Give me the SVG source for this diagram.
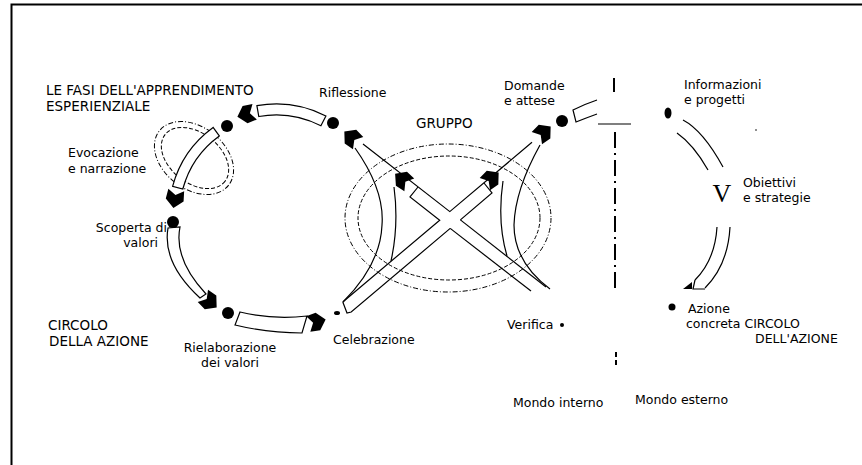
<svg xmlns="http://www.w3.org/2000/svg" width="862" height="465" viewBox="0 0 862 465">
<defs>
<style>
.t{font-family:"DejaVu Sans","Liberation Sans",sans-serif;font-size:12.5px;fill:#000}
.c{font-size:13.5px}
.ln{fill:none;stroke:#000;stroke-width:1.2}
.band{fill:#fff;stroke:#000;stroke-width:1.2}
.dd{fill:none;stroke:#000;stroke-width:1;stroke-dasharray:5 2 1 2}
.ds{fill:none;stroke:#000;stroke-width:1;stroke-dasharray:4 2}
</style>
<path id="ah" d="M10,0 L2,-9 L-8,-8 L-3,0 L-8,8 L2,9 Z" fill="#000"/>
</defs>
<rect width="862" height="465" fill="#fff"/>
<path d="M11.5,465 V4.5 H862" fill="none" stroke="#000" stroke-width="2"/>

<g id="labels">
<text class="t c" x="46" y="95">LE FASI DELL'APPRENDIMENTO</text>
<text class="t c" x="46" y="111">ESPERIENZIALE</text>
<text class="t" x="319" y="97">Riflessione</text>
<text class="t" x="504" y="90">Domande</text>
<text class="t" x="504" y="105">e attese</text>
<text class="t c" x="416" y="128">GRUPPO</text>
<text class="t" x="684" y="89">Informazioni</text>
<text class="t" x="684" y="104">e progetti</text>
<text class="t" x="68" y="157">Evocazione</text>
<text class="t" x="68" y="173">e narrazione</text>
<text x="722" y="202" text-anchor="middle" style="font-family:'Liberation Serif','DejaVu Serif',serif;font-size:26px">V</text>
<text class="t" x="743" y="187">Obiettivi</text>
<text class="t" x="743" y="202">e strategie</text>
<text class="t" x="167" y="232" text-anchor="end">Scoperta di</text>
<text class="t" x="158" y="247" text-anchor="end">valori</text>
<text class="t c" x="48" y="330">CIRCOLO</text>
<text class="t c" x="49" y="346">DELLA AZIONE</text>
<text class="t" x="230" y="352" text-anchor="middle">Rielaborazione</text>
<text class="t" x="230" y="367" text-anchor="middle">dei valori</text>
<text class="t" x="333" y="344">Celebrazione</text>
<text class="t" x="507" y="329">Verifica</text>
<text class="t" x="688" y="313">Azione</text>
<text class="t" x="686" y="328">concreta CIRCOLO</text>
<text class="t" x="755" y="343">DELL'AZIONE</text>
<text class="t" x="513" y="407">Mondo interno</text>
<text class="t" x="635" y="404">Mondo esterno</text>
</g>

<g id="evocazione-ellipses">
<ellipse class="dd" cx="194" cy="158" rx="44" ry="31" transform="rotate(38 194 158)"/>
<ellipse class="ds" cx="195" cy="158" rx="38" ry="25" transform="rotate(38 195 158)"/>
</g>

<g id="gruppo-ellipses">
<ellipse class="dd" cx="448" cy="218" rx="103" ry="74"/>
<ellipse class="ds" cx="449" cy="218" rx="91" ry="62"/>
</g>

<g id="left-circle">
<path class="band" d="M325.9,116 A110,110 0 0 0 256.9,105.7 L258.8,116.5 A99,99 0 0 1 320.9,125.8 Z"/>
<use href="#ah" transform="translate(247,114) rotate(164)"/>
<path class="band" d="M213.1,127.4 A107,107 0 0 0 172.6,186.3 L182.8,189 A96.5,96.5 0 0 1 219.3,135.9 Z"/>
<use href="#ah" transform="translate(175,198) rotate(99)"/>
<path class="band" d="M168,228 Q162,263 200,298 L206,294 Q173.5,259 180,227 Z"/>
<use href="#ah" transform="translate(209,301) rotate(40)"/>
<path class="band" d="M240,312 Q273,320 307,316 L302,333 Q268,333 235,325 Z"/>
<use href="#ah" transform="translate(316,322) rotate(-15)"/>
<circle cx="227" cy="126" r="6"/>
<circle cx="333" cy="123" r="6"/>
<circle cx="173" cy="222" r="6"/>
<circle cx="228" cy="313" r="6"/>
<ellipse cx="337" cy="313" rx="3" ry="2"/>
</g>

<g id="center-cross">
<path class="ln" d="M355,148 C372,172 384,200 382,225 C381,250 370,275 343,302"/>
<path class="ln" d="M363,144 L449.8,211.6 L532,142.3"/>
<path class="ln" d="M460.4,219.9 L546,287"/>
<path class="ln" d="M342.8,302 L439.7,220.2 L410,197 L418,187"/>
<path class="ln" d="M450.2,228.4 L531,291"/>
<path class="ln" d="M484,183 L492,193 L460.4,219.9"/>
<path class="ln" d="M342.8,302 L347,313 L351.2,312 L450.2,228.4"/>
<path class="ln" d="M394,187 Q399,225 391,261"/>
<path class="ln" d="M503,181 Q497,222 507,256"/>
<path class="ln" d="M540,145 Q515,190 514,225 Q514,262 550,289"/>
<use href="#ah" transform="translate(352,138) rotate(220)"/>
<use href="#ah" transform="translate(403,180) rotate(218)"/>
<use href="#ah" transform="translate(491,179) rotate(-40)"/>
</g>

<g id="right-circle">
<use href="#ah" transform="translate(543,133) rotate(-40)"/>
<circle cx="562" cy="121" r="6"/>
<path class="ln" d="M597,100 Q585,104 573,110 L576,122 Q586,118 597,114"/>
<ellipse cx="668" cy="113" rx="3.5" ry="5.5"/>
<path class="ln" d="M683,120 Q703,130.5 723,167"/>
<path class="ln" d="M677,133 Q693.5,144.5 708,170"/>
<path class="ln" d="M730,227 Q728,265 705,288"/>
<path class="ln" d="M717,227 Q715,260 695,280"/>
<path d="M683,289 L692,289 L692,282 Z"/>
<path class="ln" d="M695,280 L693,289 L705,289"/>
<circle cx="672" cy="307" r="3.5"/>
<circle cx="562" cy="325" r="2"/>
<circle cx="756" cy="130" r="0.8"/>
</g>

<g id="divider">
<path d="M614,78 V92" stroke="#000" stroke-width="2"/>
<path d="M598,124 H631" stroke="#000" stroke-width="1.2"/>
<path d="M615,132 V290" stroke="#000" stroke-width="2" stroke-dasharray="16 5 2 5"/>
<path d="M616,352 V368" stroke="#000" stroke-width="2" stroke-dasharray="5 3"/>
</g>
</svg>
